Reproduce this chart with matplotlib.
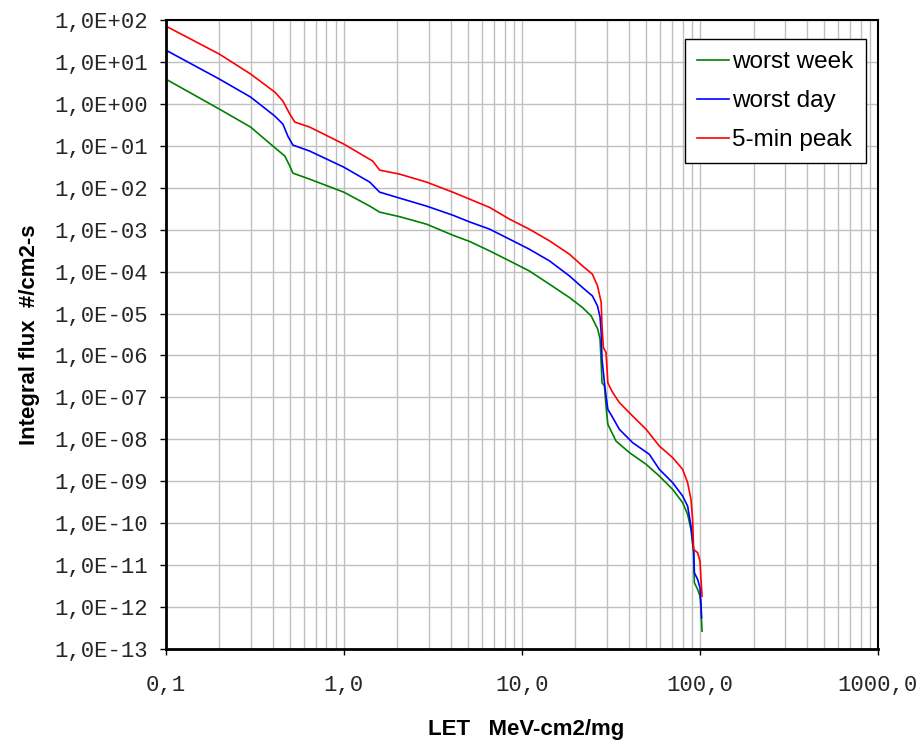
import numpy as np
import matplotlib
matplotlib.use('Agg')
import matplotlib.pyplot as plt
from matplotlib.ticker import FixedLocator, FixedFormatter, NullLocator

# LET (MeV-cm2/mg) and integral flux (#/cm2-s)
let_peak = [0.1, 0.20, 0.30, 0.41, 0.455, 0.498, 0.531, 0.644, 1.0, 1.455, 1.59, 2.06, 2.92,
            4.09, 5.09, 6.59, 8.53, 11.0, 14.3, 18.5, 21.9, 24.9, 26.6, 27.9, 28.2, 28.7, 29.7,
            30.4, 31.0, 32.4, 35.3, 41.9, 49.9, 59.2, 70.3, 80.0, 85.3, 89.1, 91.0, 92.2, 97.1,
            100.1, 101.4, 102.8]
flux_peak = [72, 15.4, 5.14, 1.91, 1.17, 0.571, 0.368, 0.279, 0.110, 0.0432, 0.0263, 0.0211,
             0.0136, 7.85e-3, 5.35e-3, 3.39e-3, 1.78e-3, 1.03e-3, 5.41e-4, 2.60e-4, 1.37e-4,
             8.67e-5, 4.56e-5, 1.86e-5, 5.06e-6, 1.55e-6, 1.17e-6, 2.25e-7, 1.87e-7, 1.30e-7,
             7.52e-8, 3.60e-8, 1.73e-8, 6.92e-9, 3.66e-9, 1.92e-9, 9.27e-10, 3.70e-10, 1.23e-10,
             2.37e-11, 1.98e-11, 1.25e-11, 4.56e-12, 1.82e-12]

let_day = [0.1, 0.20, 0.30, 0.41, 0.455, 0.485, 0.518, 0.644, 1.0, 1.40, 1.59, 2.06, 2.92,
           4.09, 5.09, 6.59, 8.53, 11.0, 14.3, 18.5, 21.9, 24.9, 26.6, 27.5, 27.9, 28.2, 29.1,
           29.7, 30.4, 32.4, 35.3, 41.9, 52.0, 59.2, 70.3, 80.0, 85.3, 89.1, 92.2, 93.1, 97.1,
           100.1, 101.4, 102.2]
flux_day = [19.2, 3.91, 1.45, 0.512, 0.330, 0.171, 0.104, 0.0748, 0.0310, 0.0136, 7.85e-3,
            5.65e-3, 3.64e-3, 2.22e-3, 1.53e-3, 1.03e-3, 5.93e-4, 3.43e-4, 1.80e-4, 7.89e-5,
            4.18e-5, 2.63e-5, 1.52e-5, 8.17e-6, 3.52e-6, 8.11e-7, 2.25e-7, 1.08e-7, 5.20e-8,
            3.30e-8, 1.73e-8, 8.34e-9, 4.39e-9, 1.92e-9, 9.27e-10, 4.44e-10, 2.56e-10, 8.53e-11,
            2.37e-11, 6.59e-12, 4.56e-12, 2.89e-12, 1.27e-12, 5.56e-13]

let_week = [0.1, 0.20, 0.30, 0.40, 0.467, 0.498, 0.518, 0.644, 1.0, 1.40, 1.59, 2.06, 2.92,
            4.09, 5.09, 6.59, 8.53, 11.0, 14.3, 18.5, 21.9, 24.5, 26.7, 27.5, 27.9, 28.2, 29.1,
            29.7, 30.4, 33.8, 40.2, 49.9, 59.2, 70.3, 80.0, 85.3, 89.1, 92.2, 93.1, 97.1, 100.1,
            101.4, 102.8]
flux_week = [3.91, 0.752, 0.279, 0.0985, 0.0568, 0.0328, 0.0223, 0.0160, 7.85e-3, 3.64e-3,
             2.62e-3, 2.04e-3, 1.35e-3, 7.40e-4, 5.23e-4, 3.12e-4, 1.80e-4, 1.04e-4, 5.00e-5,
             2.41e-5, 1.39e-5, 8.77e-6, 4.22e-6, 2.44e-6, 6.77e-7, 2.25e-7, 1.87e-7, 6.24e-8,
             2.28e-8, 9.10e-9, 4.82e-9, 2.53e-9, 1.33e-9, 6.41e-10, 3.09e-10, 1.62e-10, 7.11e-11,
             1.98e-11, 3.80e-12, 2.63e-12, 1.82e-12, 8.77e-13, 2.66e-13]

x_ticks = [0.1, 1, 10, 100, 1000]
x_labels = ['0,1', '1,0', '10,0', '100,0', '1000,0']
y_exps = list(range(2, -14, -1))
y_labels = ['1,0E%+03d' % e for e in y_exps]

fig = plt.figure(figsize=(9.24, 7.43), dpi=100)
ax = fig.add_axes([0.1793, 0.1265, 0.7709, 0.8466])

ax.plot(let_week, flux_week, color='#008000', lw=1.2, label='worst week')
ax.plot(let_day, flux_day, color='#0000ff', lw=1.2, label='worst day')
ax.plot(let_peak, flux_peak, color='#ff0000', lw=1.2, label='5-min peak')

ax.set_xscale('log')
ax.set_yscale('log')
ax.set_xlim(0.1, 1000)
ax.set_ylim(1e-13, 1e2)

ax.xaxis.set_major_locator(FixedLocator(x_ticks))
ax.xaxis.set_major_formatter(FixedFormatter(x_labels))
minor_x = [m * 10.0 ** d for d in range(-1, 3) for m in range(2, 10)]
ax.xaxis.set_minor_locator(FixedLocator(minor_x))
ax.yaxis.set_major_locator(FixedLocator([10.0 ** e for e in y_exps]))
ax.yaxis.set_major_formatter(FixedFormatter(y_labels))
ax.yaxis.set_minor_locator(NullLocator())

ax.grid(True, which='major', color='#c0c0c0', lw=1.0)
ax.grid(True, which='minor', axis='x', color='#c0c0c0', lw=1.0)
ax.set_axisbelow(True)

mono = 'Liberation Mono'
ax.tick_params(axis='both', which='major', direction='out', length=4, width=1, color='black')
ax.tick_params(axis='x', which='minor', length=0)
ax.tick_params(axis='x', pad=15)
ax.tick_params(axis='y', pad=9)
for lab in ax.get_xticklabels() + ax.get_yticklabels():
    lab.set_family(mono)
    lab.set_fontsize(16)
    lab.set_color('#262626')

for side in ['left', 'bottom']:
    ax.spines[side].set_linewidth(2)
for side in ['top', 'right']:
    ax.spines[side].set_linewidth(1.5)

ax.set_xlabel('LET   MeV-cm2/mg', fontsize=16, fontweight='bold', family='Liberation Sans')
ax.set_ylabel('Integral flux  #/cm2-s', fontsize=16, fontweight='bold', family='Liberation Sans')
ax.xaxis.set_label_coords(0.506, -0.112)
ax.yaxis.set_label_coords(-0.176, 0.5)

leg = ax.legend(loc='upper right', bbox_to_anchor=(0.983, 0.970), borderaxespad=0,
                fancybox=False, framealpha=1, edgecolor='black', handlelength=1.3,
                handletextpad=0.15, labelspacing=0.7, borderpad=0.5,
                prop={'family': 'Liberation Sans', 'size': 17.5})
leg.get_frame().set_linewidth(1.0)

fig.savefig('out.png', dpi=100)
